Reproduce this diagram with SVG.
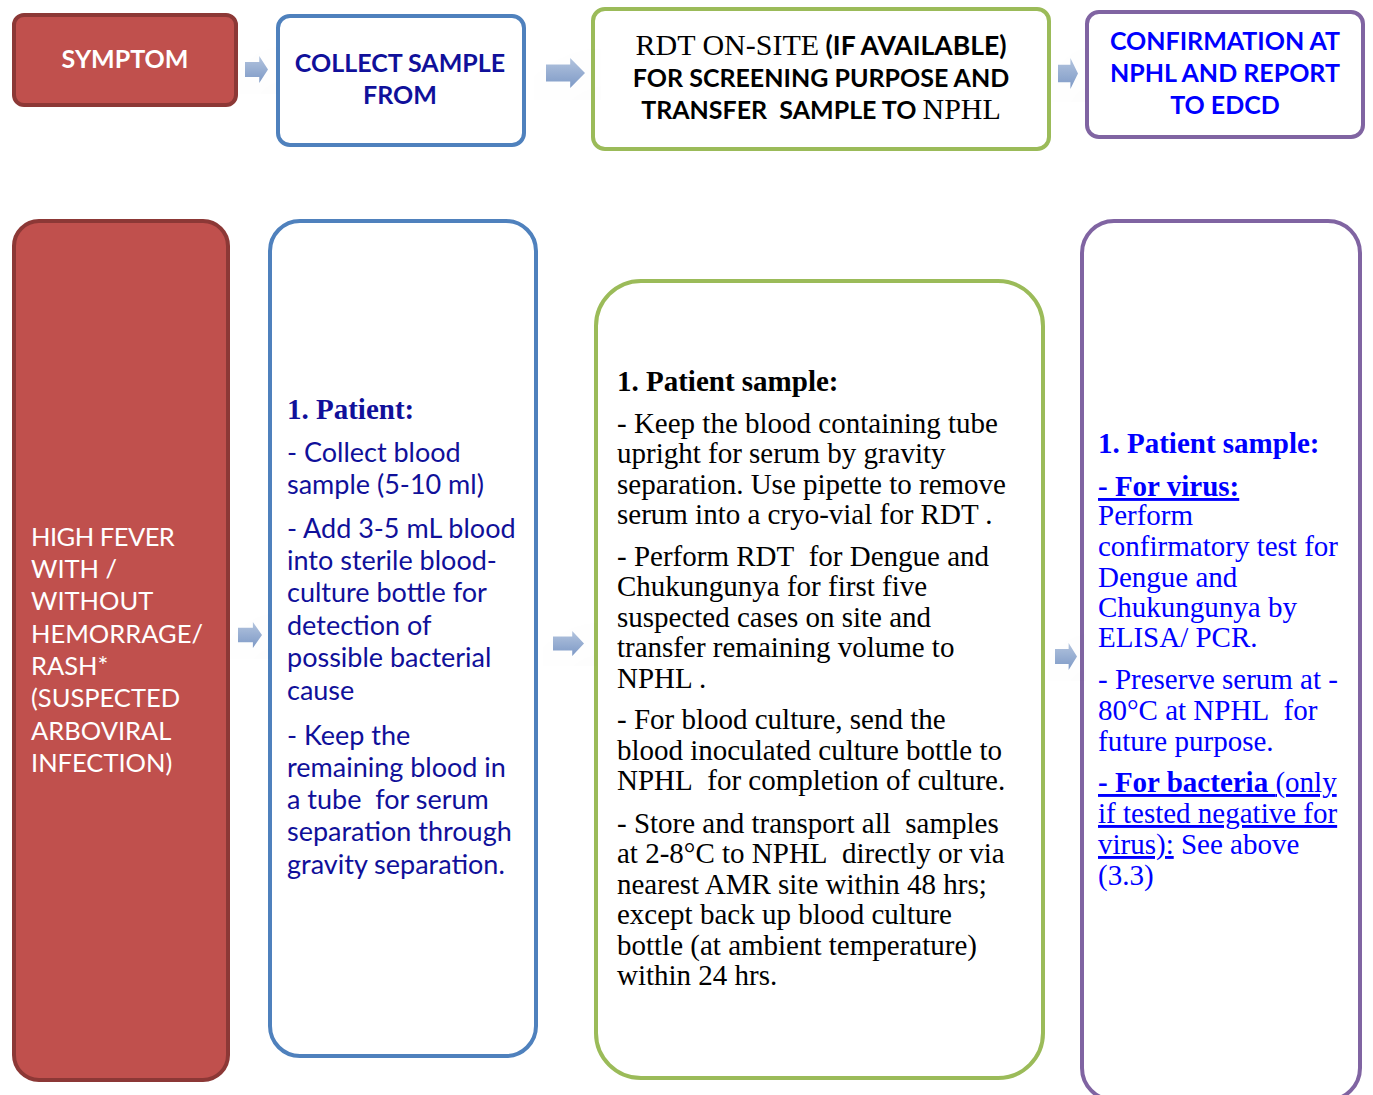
<svg xmlns="http://www.w3.org/2000/svg" width="1373" height="1095" viewBox="0 0 1373 1095">
  <defs>
    <linearGradient id="arrowFill" x1="0" y1="0" x2="0" y2="1">
      <stop offset="0" stop-color="#b3c4de"/>
      <stop offset="1" stop-color="#7d99c6"/>
    </linearGradient>
    <filter id="soft" x="-30%" y="-30%" width="170%" height="170%">
      <feDropShadow dx="1.5" dy="2" stdDeviation="1.5" flood-color="#000" flood-opacity="0.25"/>
    </filter>
    <path id="blockArrow" d="M0,0.22 H0.62 V0 L1,0.5 L0.62,1 V0.78 H0 Z"/>
    <style>
      .red { fill: #C0504D; stroke: #8C3836; stroke-width: 4; }
      .blue { fill: #fff; stroke: #4F81BD; stroke-width: 4; }
      .green { fill: #fff; stroke: #9BBB59; stroke-width: 4; }
      .purple { fill: #fff; stroke: #8064A2; stroke-width: 4; }
      .arrow { fill: url(#arrowFill); filter: url(#soft); }
      .sans { font-family: Lato, "Open Sans", "Liberation Sans", sans-serif; }
      .serif { font-family: "Liberation Serif", "DejaVu Serif", serif; }
      .hdr { font-size: 25px; font-weight: bold; text-anchor: middle; }
      .hdr.big { font-size: 26.5px; }
      .hserif { font-family: "Liberation Serif", "DejaVu Serif", serif; font-size: 30px; font-weight: normal; }
      .white { fill: #fff; }
      .navy { fill: #10109a; }
      .black { fill: #000; }
      .bright { fill: #0000ff; }
      .body { font-size: 27px; }
      .redbody { font-size: 25.5px; }
      .sbody { font-size: 29px; }
      .shead { font-size: 29px; font-weight: bold; }
      .b { font-weight: bold; }
      .u { text-decoration: underline; }
    </style>
  </defs>

  <!-- top row -->
  <g id="symptom-head">
    <rect class="red" x="14" y="15" width="222" height="90" rx="10"/>
    <text class="sans hdr white" x="125" y="68">SYMPTOM</text>
  </g>

  <g id="collect-head">
    <rect class="blue" x="278" y="16" width="246" height="129" rx="12"/>
    <text class="sans hdr navy" x="400" y="72">COLLECT SAMPLE</text>
    <text class="sans hdr navy" x="400" y="104">FROM</text>
  </g>

  <g id="rdt-head">
    <rect class="green" x="593" y="9" width="456" height="140" rx="12"/>
    <text class="sans hdr big black" x="821" y="55"><tspan class="hserif">RDT ON-SITE</tspan> (IF AVAILABLE)</text>
    <text class="sans hdr black" x="821" y="87">FOR SCREENING PURPOSE AND</text>
    <text class="sans hdr black" x="821" y="119">TRANSFER&#160; SAMPLE TO <tspan class="hserif">NPHL</tspan></text>
  </g>

  <g id="confirm-head">
    <rect class="purple" x="1087" y="12" width="276" height="125" rx="12"/>
    <text class="sans hdr bright" x="1225" y="50">CONFIRMATION AT</text>
    <text class="sans hdr bright" x="1225" y="82">NPHL AND REPORT</text>
    <text class="sans hdr bright" x="1225" y="114">TO EDCD</text>
  </g>

  <!-- bottom row -->
  <g id="symptom-detail">
    <rect class="red" x="14" y="221" width="214" height="859" rx="25"/>
    <text class="sans redbody white">
      <tspan x="31" y="546" letter-spacing="-0.5">HIGH FEVER</tspan>
      <tspan x="31" y="578">WITH /</tspan>
      <tspan x="31" y="610">WITHOUT</tspan>
      <tspan x="31" y="643">HEMORRAGE/</tspan>
      <tspan x="31" y="675">RASH*</tspan>
      <tspan x="31" y="707">(SUSPECTED</tspan>
      <tspan x="31" y="740">ARBOVIRAL</tspan>
      <tspan x="31" y="772">INFECTION)</tspan>
    </text>
  </g>

  <g id="collect-detail">
    <rect class="blue" x="270" y="221" width="266" height="835" rx="30"/>
    <text class="serif shead navy" x="287" y="419">1. Patient:</text>
    <text class="sans body navy">
      <tspan x="287" y="462">- Collect blood</tspan>
      <tspan x="287" y="494">sample (5-10 ml)</tspan>
      <tspan x="287" y="538">- Add 3-5 mL blood</tspan>
      <tspan x="287" y="570">into sterile blood-</tspan>
      <tspan x="287" y="602">culture bottle for</tspan>
      <tspan x="287" y="635">detection of</tspan>
      <tspan x="287" y="667">possible bacterial</tspan>
      <tspan x="287" y="700">cause</tspan>
      <tspan x="287" y="745">- Keep the</tspan>
      <tspan x="287" y="777">remaining blood in</tspan>
      <tspan x="287" y="809">a tube&#160; for serum</tspan>
      <tspan x="287" y="841">separation through</tspan>
      <tspan x="287" y="874">gravity separation.</tspan>
    </text>
  </g>

  <g id="rdt-detail">
    <rect class="green" x="596" y="281" width="447" height="797" rx="45"/>
    <text class="serif shead black" x="617" y="391">1. Patient sample:</text>
    <text class="serif sbody black">
      <tspan x="617" y="433">- Keep the blood containing tube</tspan>
      <tspan x="617" y="463">upright for serum by gravity</tspan>
      <tspan x="617" y="494">separation. Use pipette to remove</tspan>
      <tspan x="617" y="524">serum into a cryo-vial for RDT .</tspan>
      <tspan x="617" y="566">- Perform RDT&#160; for Dengue and</tspan>
      <tspan x="617" y="596">Chukungunya for first five</tspan>
      <tspan x="617" y="627">suspected cases on site and</tspan>
      <tspan x="617" y="657">transfer remaining volume to</tspan>
      <tspan x="617" y="688">NPHL .</tspan>
      <tspan x="617" y="729">- For blood culture, send the</tspan>
      <tspan x="617" y="760">blood inoculated culture bottle to</tspan>
      <tspan x="617" y="790">NPHL&#160; for completion of culture.</tspan>
      <tspan x="617" y="833">- Store and transport all&#160; samples</tspan>
      <tspan x="617" y="863">at 2-8°C to NPHL&#160; directly or via</tspan>
      <tspan x="617" y="894">nearest AMR site within 48 hrs;</tspan>
      <tspan x="617" y="924">except back up blood culture</tspan>
      <tspan x="617" y="955">bottle (at ambient temperature)</tspan>
      <tspan x="617" y="985">within 24 hrs.</tspan>
    </text>
  </g>

  <g id="confirm-detail">
    <rect class="purple" x="1082" y="221" width="278" height="879" rx="32"/>
    <text class="serif shead bright" x="1098" y="453">1. Patient sample:</text>
    <text class="serif sbody bright">
      <tspan x="1098" y="496" class="b u">- For virus:</tspan>
      <tspan x="1098" y="525">Perform</tspan>
      <tspan x="1098" y="556">confirmatory test for</tspan>
      <tspan x="1098" y="587">Dengue and</tspan>
      <tspan x="1098" y="617">Chukungunya by</tspan>
      <tspan x="1098" y="647">ELISA/ PCR.</tspan>
      <tspan x="1098" y="689">- Preserve serum at -</tspan>
      <tspan x="1098" y="720">80°C at NPHL&#160; for</tspan>
      <tspan x="1098" y="751">future purpose.</tspan>
      <tspan x="1098" y="792" class="b u">- For bacteria </tspan><tspan class="u">(only</tspan>
      <tspan x="1098" y="823" class="u">if tested negative for</tspan>
      <tspan x="1098" y="854" class="u">virus):</tspan><tspan> See above</tspan>
      <tspan x="1098" y="885">(3.3)</tspan>
    </text>
  </g>

  <!-- flow arrows between columns -->
  <g id="connectors">
    <use href="#blockArrow" class="arrow" transform="translate(245,56) scale(23,27)"/>
    <use href="#blockArrow" class="arrow" transform="translate(546,58) scale(39,30)"/>
    <use href="#blockArrow" class="arrow" transform="translate(1058,58) scale(20,31)"/>
    <use href="#blockArrow" class="arrow" transform="translate(238,622) scale(24,26)"/>
    <use href="#blockArrow" class="arrow" transform="translate(553,631) scale(31,25)"/>
    <use href="#blockArrow" class="arrow" transform="translate(1055,643) scale(22,27)"/>
  </g>
</svg>
